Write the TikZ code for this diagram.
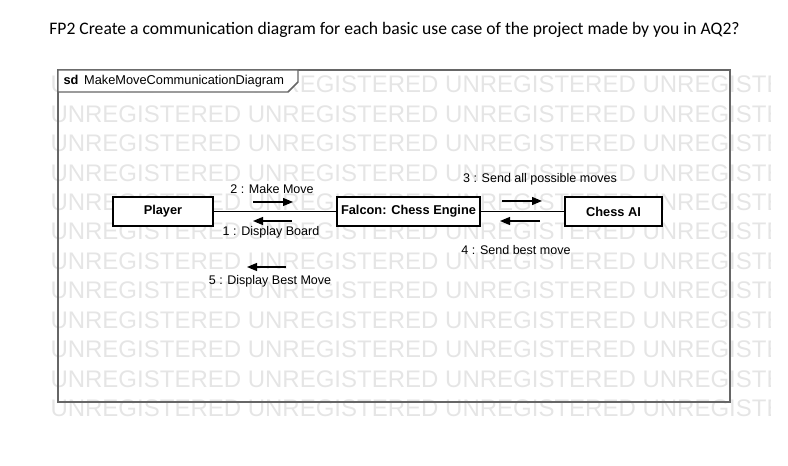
\documentclass[tikz,border=0pt]{standalone}
\usepackage{fontspec}
\setmainfont{Liberation Sans}
\newfontfamily\titlefont{Carlito}
\usetikzlibrary{arrows.meta}

\tikzset{every picture/.style={line width=0.75pt}}
\tikzset{
	objbox/.style={draw=black, fill=white, line width=0.9pt, minimum height=21.75pt, inner sep=0pt, font=\bfseries\fontsize{9.6}{11}\selectfont},
	link/.style={draw=black, line width=1.1pt},
	msg/.style={line width=0.9pt, -{Triangle[length=7.5pt, width=6pt]}},
	msglabel/.style={inner sep=0pt, font=\fontsize{9.4}{11}\selectfont},
	wm/.style={inner sep=0pt, anchor=base west, text=black!10, font=\fontsize{18}{21}\selectfont},
	frameline/.style={draw=black!60, line width=1.1pt},
}

\begin{document}
\begin{tikzpicture}[x=0.75pt,y=0.75pt,yscale=-1,xscale=1]
			\useasboundingbox (0,0) rectangle (788,466);
			% Text Node
			\draw (394.5,30) node [font=\titlefont\fontsize{13.2}{15}\selectfont] (title) {FP2 Create a communication diagram for each basic use case of the project made by you in AQ2?};

			%Watermark rows
			\begin{scope}
				\clip (46,70) rectangle (770,420);
				\foreach \r in {0,...,11}
					\draw (50,93+29.4*\r) node [wm] (wm\r) {UNREGISTERED UNREGISTERED UNREGISTERED UNREGISTERED};
			\end{scope}

			%Shape: Frame
			\draw [frameline] (58,70) rectangle (730,402);
			%Shape: Frame tab
			\draw [frameline, fill=white] (58,70) -- (298,70) -- (298,82) -- (288,92) -- (58,92) -- cycle;
			% Text Node
			\draw (63,81) node [anchor=west, inner sep=0pt, font=\fontsize{9.6}{11}\selectfont] (tab) {\textbf{sd}\, MakeMoveCommunicationDiagram};

			%Shape: Rectangle
			\draw (163,211.5) node [objbox, minimum width=75pt] (player) {Player};
			%Shape: Rectangle
			\draw (408.5,211.5) node [objbox, minimum width=107.25pt] (engine) {Falcon: Chess Engine};
			%Shape: Rectangle
			\draw (613.5,211.5) node [objbox, minimum width=72.75pt] (chessai) {Chess AI};

			%Straight Lines
			\draw [link] (player) -- (engine);
			\draw [link] (engine) -- (chessai);

			%Messages
			\coordinate (m2a) at (253,202); \coordinate (m2b) at (293,202);
			\coordinate (m1a) at (292,221); \coordinate (m1b) at (253,221);
			\coordinate (m3a) at (502,201); \coordinate (m3b) at (542,201);
			\coordinate (m4a) at (540,221); \coordinate (m4b) at (500,221);
			\coordinate (m5a) at (286,267); \coordinate (m5b) at (247,267);
			\draw [msg] (m2a) -- (m2b);
			\draw [msg] (m1a) -- (m1b);
			\draw [msg] (m3a) -- (m3b);
			\draw [msg] (m4a) -- (m4b);
			\draw [msg] (m5a) -- (m5b);

			% Text Node
			\draw (272,189) node [msglabel] (l2) {2 : Make Move};
			% Text Node
			\draw (271,232) node [msglabel] (l1) {1 : Display Board};
			% Text Node
			\draw (540,179) node [msglabel] (l3) {3 : Send all possible moves};
			% Text Node
			\draw (516,250) node [msglabel] (l4) {4 : Send best move};
			% Text Node
			\draw (270,281) node [msglabel] (l5) {5 : Display Best Move};

		\end{tikzpicture}
\end{document}
